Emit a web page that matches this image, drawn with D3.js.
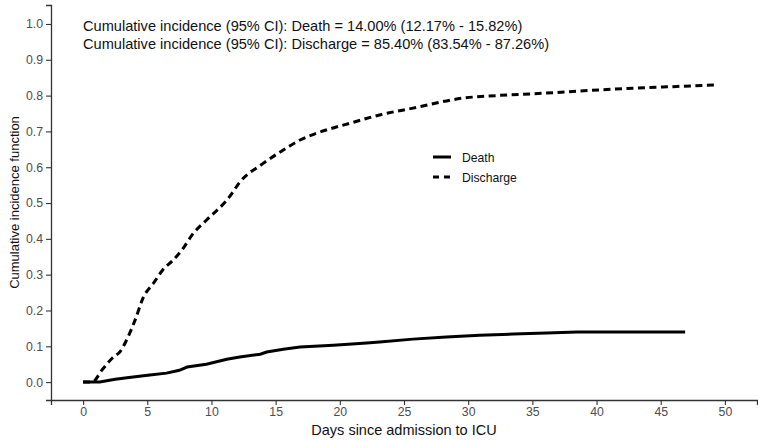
<!DOCTYPE html>
<html>
<head>
<meta charset="utf-8">
<script src="https://cdn.jsdelivr.net/npm/d3@7"></script>
<style>
  html, body { margin: 0; padding: 0; background: #fff; }
  text { font-family: "Liberation Sans", Arial, sans-serif; }
</style>
</head>
<body>
<svg id="chart" width="758" height="441"></svg>
<script>
// ---- data ----
const deathDays = [0, 1.3, 2.5, 3.9, 5.2, 6.5, 7.5, 8.1, 9.6, 11.2, 12.2, 13.8, 14.3, 15.6, 16.9, 19.5, 22.1, 23.1, 25.7, 28.3, 30.9, 33.5, 36.1, 38.5, 46.9];
const deathCIF  = [0, 0.000, 0.008, 0.014, 0.020, 0.025, 0.033, 0.042, 0.050, 0.064, 0.070, 0.078, 0.084, 0.092, 0.098, 0.103, 0.109, 0.112, 0.120, 0.126, 0.131, 0.134, 0.137, 0.140, 0.140];

const dischargeDays = [0, 0.7, 1.5, 2.3, 2.9, 3.5, 4.05, 4.7, 5.5, 6.2, 7.0, 7.7, 8.6, 9.6, 11.4, 12.2, 14.0, 15.6, 16.9, 18.2, 20.8, 23.1, 25.7, 29.6, 32.2, 36.1, 41.3, 45.2, 49.4];
const dischargeCIF  = [0, 0, 0.035, 0.068, 0.086, 0.126, 0.173, 0.237, 0.277, 0.313, 0.340, 0.369, 0.416, 0.452, 0.517, 0.558, 0.610, 0.648, 0.676, 0.695, 0.723, 0.746, 0.765, 0.793, 0.800, 0.807, 0.818, 0.824, 0.830];

const seriesNames = ["Death", "Discharge"];
const xTicks = [0, 5, 10, 15, 20, 25, 30, 35, 40, 45, 50];
const yTicks = [0, 0.1, 0.2, 0.3, 0.4, 0.5, 0.6, 0.7, 0.8, 0.9, 1.0];
const annotations = [
  "Cumulative incidence (95% CI): Death = 14.00% (12.17% - 15.82%)",
  "Cumulative incidence (95% CI): Discharge = 85.40% (83.54% - 87.26%)"
];
const xTitle = "Days since admission to ICU";
const yTitle = "Cumulative incidence function";

// ---- layout ----
const svg = d3.select("#chart");
const mLeft = 51, mRight = 757, mTop = 5, mBottom = 400;

const x = d3.scaleLinear().domain([-2.5, 52.5]).range([mLeft, mRight]);
const y = d3.scaleLinear().domain([-0.05, 1.053]).range([mBottom, mTop]);

// axes
const xAxis = svg.append("g").attr("transform", `translate(0,${mBottom})`)
  .call(d3.axisBottom(x).tickValues(xTicks).tickFormat(d3.format("d")).tickSizeOuter(0).tickSize(5).tickPadding(2));
const yAxis = svg.append("g").attr("transform", `translate(${mLeft},0)`)
  .call(d3.axisLeft(y).tickValues(yTicks).tickFormat(d3.format(".1f")).tickSizeOuter(0).tickSize(5).tickPadding(3));

[xAxis, yAxis].forEach(g => {
  g.select(".domain").attr("stroke", "#333").attr("stroke-width", 1.3);
  g.selectAll(".tick line").attr("stroke", "#333").attr("stroke-width", 1.1);
  g.selectAll(".tick text").attr("fill", "#4d4d4d").style("font-size", "12.3px")
    .style("font-family", "'Liberation Sans', Arial, sans-serif");
});

// axis titles
svg.append("text").attr("x", (mLeft + mRight) / 2).attr("y", 435)
  .attr("text-anchor", "middle").style("font-size", "14.5px").attr("fill", "#111").text(xTitle);
svg.append("text").attr("transform", `translate(19,${(mTop + mBottom) / 2}) rotate(-90)`)
  .attr("text-anchor", "middle").style("font-size", "13px").attr("fill", "#111").text(yTitle);

// lines
const deathLine = d3.line().x(d => x(d[0])).y(d => y(d[1])).curve(d3.curveLinear);
const dischargeLine = d3.line().x(d => x(d[0])).y(d => y(d[1])).curve(d3.curveMonotoneX);
const deathData = deathDays.map((d, i) => [d, deathCIF[i]]);
const dischargeData = dischargeDays.map((d, i) => [d, dischargeCIF[i]]);

svg.append("path").datum(deathData).attr("d", deathLine)
  .attr("fill", "none").attr("stroke", "#000").attr("stroke-width", 3);
svg.append("path").datum(dischargeData).attr("d", dischargeLine)
  .attr("fill", "none").attr("stroke", "#000").attr("stroke-width", 3)
  .attr("stroke-dasharray", "7,4.5");

// annotations
annotations.forEach((t, i) => {
  svg.append("text").attr("x", 83).attr("y", 30.5 + i * 18)
    .style("font-size", "14.6px").attr("fill", "#111").text(t);
});

// legend
const legend = svg.append("g");
seriesNames.forEach((name, i) => {
  const ly = 157 + i * 20;
  legend.append("line").attr("x1", 433).attr("x2", 451).attr("y1", ly).attr("y2", ly)
    .attr("stroke", "#000").attr("stroke-width", 3)
    .attr("stroke-dasharray", i === 1 ? "6,5" : null);
  legend.append("text").attr("x", 462).attr("y", ly + 4.5)
    .style("font-size", "12.2px").attr("fill", "#111").text(name);
});
</script>
</body>
</html>
